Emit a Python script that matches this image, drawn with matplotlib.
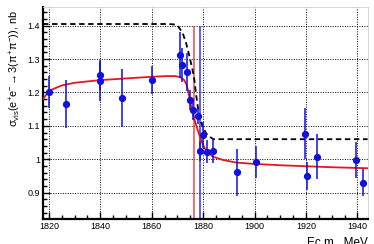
import matplotlib
matplotlib.use('Agg')
import matplotlib.pyplot as plt
from matplotlib.ticker import MultipleLocator

plt.rcParams['font.family'] = ['Liberation Sans', 'DejaVu Sans']
plt.rcParams['mathtext.fontset'] = 'custom'
plt.rcParams['mathtext.rm'] = 'Liberation Sans'
plt.rcParams['mathtext.it'] = 'Liberation Sans'
plt.rcParams['mathtext.sf'] = 'Liberation Sans'

# measured points
energy = [1820.0, 1826.5, 1839.8, 1840.0, 1848.6, 1860.0, 1870.9, 1871.7, 1873.9,
          1874.7, 1876.2, 1877.9, 1880.1, 1878.9, 1881.4, 1883.7, 1893.0, 1900.6,
          1919.6, 1920.6, 1924.3, 1939.5, 1942.2]
sigma = [1.200, 1.166, 1.252, 1.233, 1.184, 1.237, 1.312, 1.282, 1.262,
         1.178, 1.148, 1.128, 1.073, 1.026, 1.023, 1.026, 0.961, 0.993,
         1.076, 0.950, 1.008, 0.998, 0.930]
sigma_err = [0.048, 0.072, 0.045, 0.058, 0.086, 0.043, 0.070, 0.050, 0.057,
             0.030, 0.030, 0.022, 0.040, 0.030, 0.035, 0.037, 0.070, 0.048,
             0.076, 0.043, 0.067, 0.053, 0.040]

# fit curve (red)
fit_e = [1817.7, 1820, 1825, 1830, 1840, 1850, 1860, 1866, 1869, 1871, 1872.5,
         1873.5, 1874.3, 1875.0, 1875.9, 1876.9, 1877.8, 1878.8, 1879.8, 1881.1,
         1883.7, 1887.6, 1892.8, 1900, 1910, 1920, 1930, 1944]
fit_s = [1.180, 1.205, 1.221, 1.229, 1.237, 1.242, 1.247, 1.249, 1.249, 1.246, 1.238,
         1.225, 1.200, 1.170, 1.140, 1.112, 1.090, 1.066, 1.046, 1.026,
         1.008, 0.998, 0.990, 0.986, 0.982, 0.979, 0.976, 0.973]

# model curve (black dashed)
mod_e = [1817.7, 1866, 1868.5, 1870.1, 1872.1, 1873.4, 1874.4, 1875.3, 1875.9,
         1876.6, 1877.2, 1877.9, 1878.9, 1879.8, 1881.1, 1882.4, 1884, 1944]
mod_s = [1.405, 1.405, 1.404, 1.400, 1.377, 1.347, 1.317, 1.287, 1.267,
         1.237, 1.198, 1.158, 1.118, 1.098, 1.078, 1.068, 1.060, 1.060]

# thresholds
thr_pp = 1876.3
thr_nn = 1878.9

fig = plt.figure(figsize=(3.74, 2.44), dpi=100)
ax = fig.add_axes([0.115, 0.1025, 0.868, 0.8675])

ax.grid(True, which='major', color='black', linestyle=(0, (1, 1.5)), linewidth=0.7)
ax.set_axisbelow(True)

ax.vlines(thr_pp, 0.6, 1.4, color='#e03030', alpha=0.8, linewidth=1.2, zorder=2)
ax.vlines(thr_nn, 0.6, 1.4, color='#3030e0', alpha=0.9, linewidth=1.2, zorder=2)

ax.plot(mod_e, mod_s, color='black', linestyle=(0, (3, 2)), linewidth=1.3, zorder=3)
ax.plot(fit_e, fit_s, color='#e8141e', linewidth=1.3, zorder=4)
ax.errorbar(energy, sigma, yerr=sigma_err, fmt='o', color='#1010e0', markersize=4.2,
            elinewidth=1.1, capsize=0, zorder=5)

ax.set_xlim(1817.7, 1944)
ax.set_ylim(0.821, 1.455)
ax.xaxis.set_major_locator(MultipleLocator(20))
ax.xaxis.set_minor_locator(MultipleLocator(5))
ax.yaxis.set_major_locator(MultipleLocator(0.1))
ax.yaxis.set_minor_locator(MultipleLocator(0.02))
ax.set_yticks([0.9, 1.0, 1.1, 1.2, 1.3, 1.4])
ax.set_yticklabels(['0.9', '1', '1.1', '1.2', '1.3', '1.4'])

ax.tick_params(which='both', direction='in', labelsize=6.5, pad=2, width=1.0)
ax.tick_params(which='major', length=5)
ax.tick_params(which='minor', length=3)
ax.tick_params(top=False, right=False)
for s in ['left', 'bottom']:
    ax.spines[s].set_linewidth(1.6)
for s in ['top', 'right']:
    ax.spines[s].set_color('#d0d0d0')
    ax.spines[s].set_linewidth(0.6)

fig.text(0.042, 0.72, r'$\sigma_{\mathrm{vis}}(\mathrm{e}^{+}\mathrm{e}^{-}\!\rightarrow 3(\pi^{+}\pi^{-}))$, nb',
         rotation=90, ha='center', va='center', fontsize=7.8)
# the axis title sits partly below the figure edge, as in the original
fig.text(0.983, 0.03, 'Ec.m., MeV', ha='right', va='top', fontsize=8.5)

fig.savefig('out.png', dpi=100)
